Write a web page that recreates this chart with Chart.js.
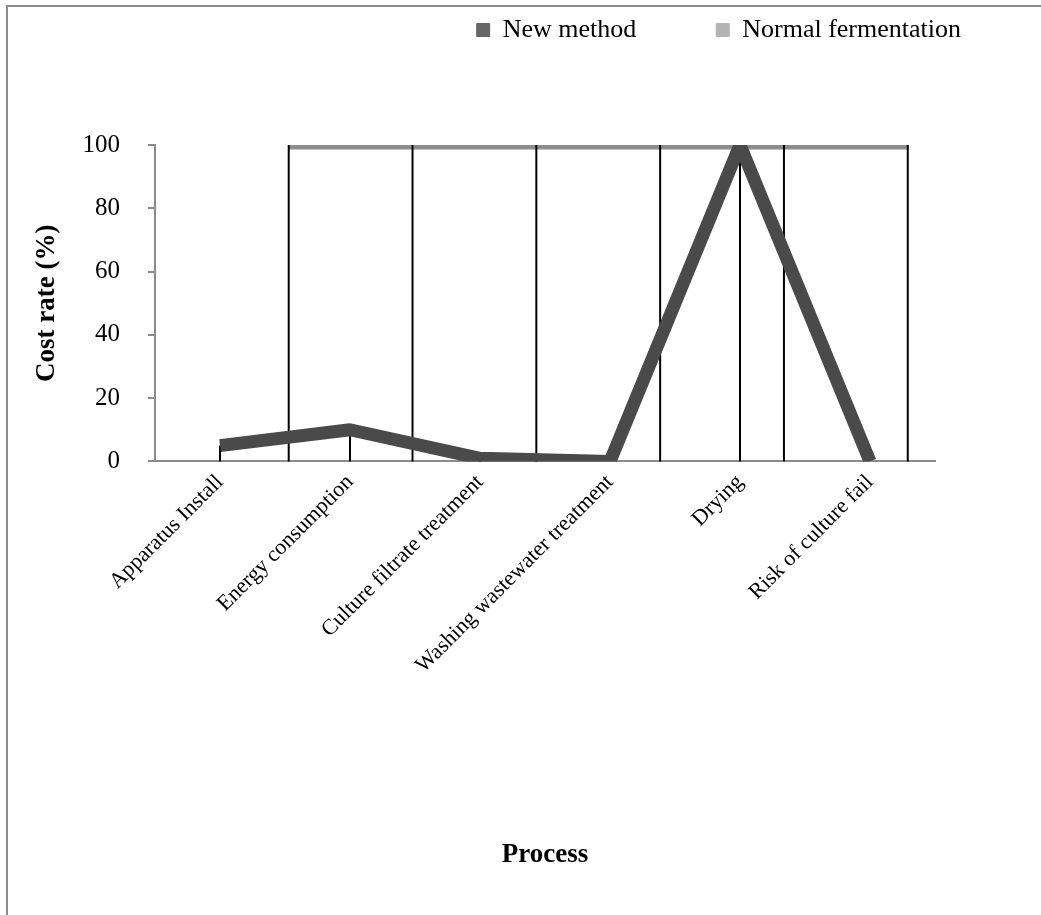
<!DOCTYPE html>
<html>
<head>
<meta charset="utf-8">
<title>Cost rate by process</title>
<script src="https://cdn.jsdelivr.net/npm/chart.js@4.4.1/dist/chart.umd.min.js"></script>
<style>
    html, body { margin: 0; padding: 0; background: #ffffff; overflow: hidden; }
    #chartbox { position: absolute; left: 0; top: 0; width: 1041px; height: 915px; }
    #frame { position: absolute; left: 6px; top: 5px; width: 1100px; height: 1000px; border: 2px solid #8c8c8c; pointer-events: none; }
</style>
</head>
<body>
<div id="chartbox"><canvas id="costRateChart" width="1041" height="915"></canvas></div>
<div id="frame"></div>
<script>
var processLabels = ["Apparatus Install", "Energy consumption", "Culture filtrate treatment",
    "Washing wastewater treatment", "Drying", "Risk of culture fail"];
var newMethodValues = [5, 10, 1, 0, 100, 0];
var normalFermentationValues = [100, 100, 100, 100, 100, 100];
var seriesNames = ["New method", "Normal fermentation"];
var yTickValues = [0, 20, 40, 60, 80, 100];

Chart.defaults.font.family = "'Liberation Serif', 'Times New Roman', serif";
Chart.defaults.color = "#000000";

/*Vertical drop lines from every point down to zero*/
var dropLines = {
    id: 'dropLines',
    afterDatasetDraw: function (chart, args) {
        if (args.index !== 1) return;
        var ctx = chart.ctx;
        var yZero = chart.scales.y.getPixelForValue(0);
        ctx.save();
        ctx.strokeStyle = "#000000";
        ctx.lineWidth = 2;
        chart.data.datasets.forEach(function (ds, i) {
            chart.getDatasetMeta(i).data.forEach(function (pt) {
                if (yZero - pt.y < 1) return;
                ctx.beginPath();
                ctx.moveTo(pt.x, pt.y);
                ctx.lineTo(pt.x, yZero);
                ctx.stroke();
            });
        });
        ctx.restore();
    }
};

/*Extra room under the legend*/
var legendGap = {
    id: 'legendGap',
    beforeInit: function (chart) {
        var fit = chart.legend.fit;
        chart.legend.fit = function () {
            fit.call(this);
            this.height += 92;
        };
    }
};

var chartCanvas = document.getElementById("costRateChart");
var costChart = new Chart(chartCanvas, {
    type: 'line',
    data: {
        labels: processLabels,
        datasets: [
            {
                label: seriesNames[0],
                data: newMethodValues,
                xAxisID: 'x',
                yAxisID: 'y',
                borderColor: "#4a4a4a",
                backgroundColor: "#666666",
                borderWidth: 13,
                borderJoinStyle: 'bevel',
                pointRadius: 0,
                tension: 0,
                fill: false
            },
            {
                label: seriesNames[1],
                data: normalFermentationValues.map(function (v, i) { return { x: i, y: v }; }),
                xAxisID: 'xb',
                yAxisID: 'y',
                borderColor: "#8c8c8c",
                backgroundColor: "#b3b3b3",
                borderWidth: 9,
                borderJoinStyle: 'bevel',
                pointRadius: 0,
                tension: 0,
                fill: false
            }
        ]
    },
    options: {
        responsive: false,
        animation: false,
        devicePixelRatio: 1,
        layout: {
            padding: { left: 31, right: 0, top: -63, bottom: 44 }
        },
        plugins: {
            tooltip: { enabled: false },
            legend: {
                display: true,
                position: 'top',
                align: 'end',
                labels: {
                    boxWidth: 13,
                    boxHeight: 13,
                    padding: 80,
                    font: { size: 26 },
                    color: "#000000",
                    generateLabels: function (chart) {
                        return chart.data.datasets.map(function (ds, i) {
                            return {
                                text: ds.label,
                                fillStyle: ds.backgroundColor,
                                strokeStyle: ds.backgroundColor,
                                lineWidth: 1,
                                hidden: false,
                                datasetIndex: i
                            };
                        });
                    }
                }
            }
        },
        scales: {
            x: {
                type: 'category',
                position: 'bottom',
                offset: true,
                grid: { display: false, drawTicks: false },
                border: { display: true, color: "#8c8c8c", width: 2 },
                ticks: {
                    autoSkip: false,
                    maxRotation: 45,
                    minRotation: 45,
                    padding: 8,
                    font: { size: 22 },
                    color: "#000000"
                },
                title: {
                    display: true,
                    text: 'Process',
                    font: { size: 27, weight: 'bold' },
                    color: "#000000",
                    padding: { top: 152, bottom: 0 }
                }
            },
            xb: {
                type: 'linear',
                display: false,
                min: -1.08,
                max: 5.22
            },
            y: {
                type: 'linear',
                position: 'left',
                min: 0,
                max: 100,
                afterBuildTicks: function (scale) {
                    scale.ticks = yTickValues.map(function (v) { return { value: v }; });
                },
                afterFit: function (scale) {
                    scale.width = 124;
                },
                grid: { drawOnChartArea: false, drawTicks: true, tickLength: 7, color: "#8c8c8c", lineWidth: 2 },
                border: { display: true, color: "#8c8c8c", width: 2 },
                ticks: {
                    padding: 28,
                    font: { size: 25 },
                    color: "#000000"
                },
                title: {
                    display: true,
                    text: 'Cost rate (%)',
                    font: { size: 27, weight: 'bold' },
                    color: "#000000",
                    padding: { top: 0, bottom: 18 }
                }
            },
            yr: {
                type: 'linear',
                position: 'right',
                display: true,
                grid: { display: false, drawTicks: false },
                border: { display: false },
                ticks: { display: false },
                afterFit: function (scale) {
                    scale.width = 106;
                }
            }
        }
    },
    plugins: [legendGap, dropLines]
});
</script>
</body>
</html>
